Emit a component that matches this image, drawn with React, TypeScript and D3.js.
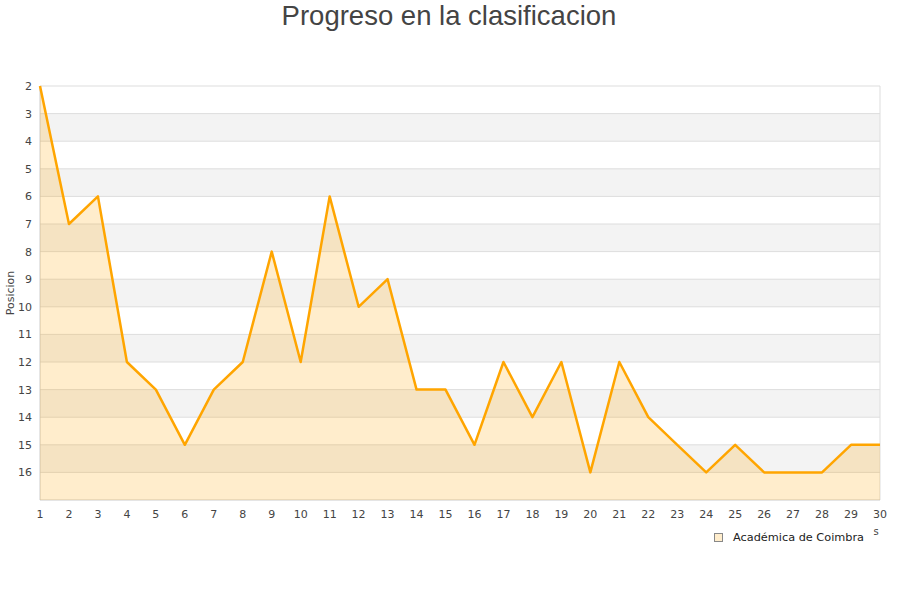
import React from 'react';
import * as d3 from 'd3';

// Jornadas y posición
const rounds = d3.range(1, 31);
const positions = [2, 7, 6, 12, 13, 15, 13, 12, 8, 12, 6, 10, 9, 13, 13, 15, 12, 14, 12, 16, 12, 14, 15, 16, 15, 16, 16, 16, 15, 15];
const yTicks = d3.range(2, 17);
const seriesName = 'Académica de Coimbra';

const W = 900;
const H = 600;
const left = 40;
const right = 880;
const top = 86;
const bottom = 500;

const x = d3.scaleLinear().domain([1, 30]).range([left, right]);
const y = d3.scaleLinear().domain([2, 17]).range([top, bottom]);

const font = '"DejaVu Sans", Verdana, sans-serif';

export default function App() {
  const pts = rounds.map((r, i) => ({ r, p: positions[i] }));
  const line = d3.line<{ r: number; p: number }>().x(d => x(d.r)).y(d => y(d.p));
  const area = d3.area<{ r: number; p: number }>().x(d => x(d.r)).y0(bottom).y1(d => y(d.p));
  const bands = d3.range(3, 17, 2);

  return (
    <svg width={W} height={H} style={{ position: 'absolute', left: 0, top: 0 }}>
      <rect width={W} height={H} fill="#fff" />
      <text x={449} y={25} textAnchor="middle" fontFamily='"Liberation Sans", Arial, sans-serif' fontSize={27.5} fill="#444">
        Progreso en la clasificacion
      </text>

      {bands.map(b => (
        <rect key={b} x={left} y={y(b)} width={right - left} height={y(b + 1) - y(b)} fill="#f3f3f3" />
      ))}
      {yTicks.map(t => (
        <line key={t} x1={left} x2={right} y1={y(t)} y2={y(t)} stroke="#ddd" strokeWidth={1} />
      ))}
      <line x1={right} x2={right} y1={top} y2={bottom} stroke="#ddd" />
      <line x1={left} x2={left} y1={top} y2={bottom} stroke="#ccc" />
      <line x1={left} x2={right} y1={bottom} y2={bottom} stroke="#ccc" />

      <path d={area(pts) ?? ''} fill="orange" fillOpacity={0.2} />
      <path d={line(pts) ?? ''} fill="none" stroke="orange" strokeWidth={2.5} strokeLinejoin="round" />

      {yTicks.map(t => (
        <text key={t} x={32} y={y(t) + 4} textAnchor="end" fontFamily={font} fontSize={11} fill="#444">
          {t}
        </text>
      ))}
      {rounds.map(r => (
        <text key={r} x={x(r)} y={518} textAnchor="middle" fontFamily={font} fontSize={11} fill="#444">
          {r}
        </text>
      ))}
      <text transform="translate(14,293) rotate(-90)" textAnchor="middle" fontFamily={font} fontSize={11} fill="#444">
        Posicion
      </text>
      <text x={876} y={535} textAnchor="middle" fontFamily={font} fontSize={10} fill="#444">s</text>

      <rect x={714.5} y={533.5} width={8} height={8} fill="orange" fillOpacity={0.2} stroke="#888" strokeWidth={1} />
      <text x={733} y={541} fontFamily={font} fontSize={11.3} fill="#222">{seriesName}</text>
    </svg>
  );
}
